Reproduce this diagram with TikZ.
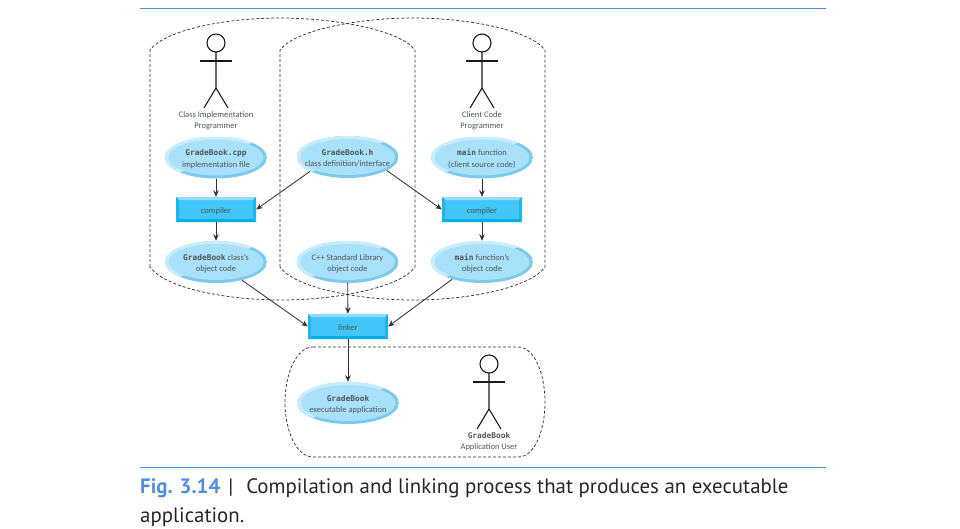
\documentclass[tikz,border=0pt]{standalone}
\usepackage{fontspec}
\setmainfont{Carlito}
\newfontfamily\codefont[Scale=0.98]{DejaVu Sans Mono}
\newfontfamily\capfont{PT Sans}
\usetikzlibrary{shapes.geometric,arrows.meta}
\definecolor{rulecol}{HTML}{4F8EDC}
\definecolor{labelcol}{HTML}{50565B}
\definecolor{ellface}{HTML}{A9E0FA}
\definecolor{elllight}{HTML}{C8EDFC}
\definecolor{elldark}{HTML}{7CCBEE}
\definecolor{boxface}{HTML}{42C6F7}
\definecolor{boxlight}{HTML}{8FDDF8}
\definecolor{boxdark}{HTML}{00B0E8}
\definecolor{boxside}{HTML}{22B4E6}
\newcommand{\code}[1]{{\codefont\bfseries\fontsize{8}{10}\selectfont #1}}
\tikzset{
  label/.style={text=labelcol,font=\fontsize{8.5}{11.5}\selectfont,align=center},
  ell/.style={ellipse,minimum width=102pt,minimum height=42pt,inner sep=-20pt,label,text height=22pt,text depth=2.5pt,
    path picture={
      \fill[elldark](path picture bounding box.south west)rectangle(path picture bounding box.north east);
      \fill[elllight](path picture bounding box.south west)--(path picture bounding box.north west)--(path picture bounding box.north east)--cycle;
      \fill[ellface](path picture bounding box.center)ellipse(47.5pt and 18pt);
    }},
  boxnode/.style={rectangle,minimum width=80pt,minimum height=25pt,inner sep=0pt,label,text height=9pt,text depth=1.5pt,
    path picture={
      \fill[boxface](path picture bounding box.south west)rectangle(path picture bounding box.north east);
      \fill[boxlight](path picture bounding box.north west)--(path picture bounding box.north east)--++(-3,3)--++(-74,0)--cycle;
      \fill[boxdark](path picture bounding box.south west)--(path picture bounding box.south east)--++(-3,-3)--++(-74,0)--cycle;
      \fill[boxside](path picture bounding box.north west)--(path picture bounding box.south west)--++(3,-3)--++(0,-19)--cycle;
      \fill[boxside](path picture bounding box.north east)--(path picture bounding box.south east)--++(-3,-3)--++(0,-19)--cycle;
    }},
  flow/.style={-{Stealth[length=6.5pt,width=5.5pt]},line width=0.85pt,draw=black!80},
  region/.style={dash pattern=on 3pt off 2pt,line width=0.75pt,draw=black!80},
  rulebar/.style={draw=rulecol},
  person/.style={line width=1.1pt,draw=black!90}
}
\begin{document}
\begin{tikzpicture}[x=1pt,y=-1pt]
\useasboundingbox(0,0)rectangle(960,528);
%rules
\coordinate(ruletopa)at(140,8);
\coordinate(ruletopb)at(826,8);
\coordinate(rulelowa)at(140,467.5);
\coordinate(rulelowb)at(826,467.5);
\draw[rulebar,line width=0.8pt](ruletopa)--(ruletopb);
\draw[rulebar,line width=1.3pt](rulelowa)--(rulelowb);
%dashed regions
\draw[region](150,267)--(150,50).. controls (165,30) and (225,18) .. (280,18).. controls (335,18) and (400,30) .. (415,50)--(415,267).. controls (400,288) and (335,300) .. (282,300).. controls (225,300) and (165,288) .. (150,267)--cycle;
\draw[region](280,267)--(280,50).. controls (295,30) and (358,18) .. (413,18).. controls (468,18) and (530,30) .. (545,50)--(545,267).. controls (530,288) and (468,300) .. (413,300).. controls (358,300) and (295,288) .. (280,267)--cycle;
\draw[region](313,347)--(518,347).. controls (535,347) and (545,375) .. (545,402).. controls (545,430) and (535,457) .. (518,457)--(313,457).. controls (296,457) and (285,430) .. (285,402).. controls (285,375) and (296,347) .. (313,347)--cycle;
%people
\foreach \x/\y in {216/43,482/43,489/364}{
  \draw[person](\x,\y)circle(9);
  \draw[person](\x,\y+9)--++(0,36)--++(-12,20);
  \draw[person](\x,\y+45)--++(12,20);
  \draw[person](\x-16,\y+18)--++(32,0);
}
\node[label](implabel)at(216,121){Class Implementation\\Programmer};
\node[label](clientlabel)at(482,121){Client Code\\Programmer};
\node[label](userlabel)at(489,441.5){\code{GradeBook}\\Application User};
%ellipses
\node[ell](cppfile)at(216,157.5){\code{GradeBook.cpp}\\implementation file};
\node[ell](hfile)at(347.5,157){\code{GradeBook.h}\\class definition/interface};
\node[ell](mainfile)at(482,157.5){\code{main} function\\(client source code)};
\node[ell](classobj)at(216,262){\code{GradeBook} class's\\object code};
\node[ell](stdobj)at(347.5,262){C++ Standard Library\\object code};
\node[ell](mainobj)at(482,262){\code{main} function's\\object code};
\node[ell](exefile)at(348,403){\code{GradeBook}\\executable application};
%boxes
\node[boxnode](compa)at(216,209.5){compiler};
\node[boxnode](compb)at(482,209.5){compiler};
\node[boxnode](linker)at(348,326.5){linker};
%arrows
\draw[flow](cppfile)--(compa);
\draw[flow](mainfile)--(compb);
\draw[flow](hfile.-159)--(compa.east);
\draw[flow](hfile.-19)--(compb.west);
\draw[flow](compa)--(classobj);
\draw[flow](compb)--(mainobj);
\draw[flow](classobj.-35)--(linker.west);
\draw[flow](mainobj.-150)--(linker.east);
\draw[flow](stdobj)--(linker);
\draw[flow](linker)--(exefile);
%caption
\node[anchor=base west,inner sep=0pt,font=\capfont\fontsize{20.85}{24}\selectfont,text=black!85](figcaption)at(140,493.5){\textcolor{rulecol}{\textbf{Fig. 3.14}}\hspace{8pt}|\hspace{13pt}Compilation and linking process that produces an executable};
\node[anchor=base west,inner sep=0pt,font=\capfont\fontsize{20.85}{24}\selectfont,text=black!85](figcaptionb)at(140,522){application.};
\end{tikzpicture}
\end{document}
